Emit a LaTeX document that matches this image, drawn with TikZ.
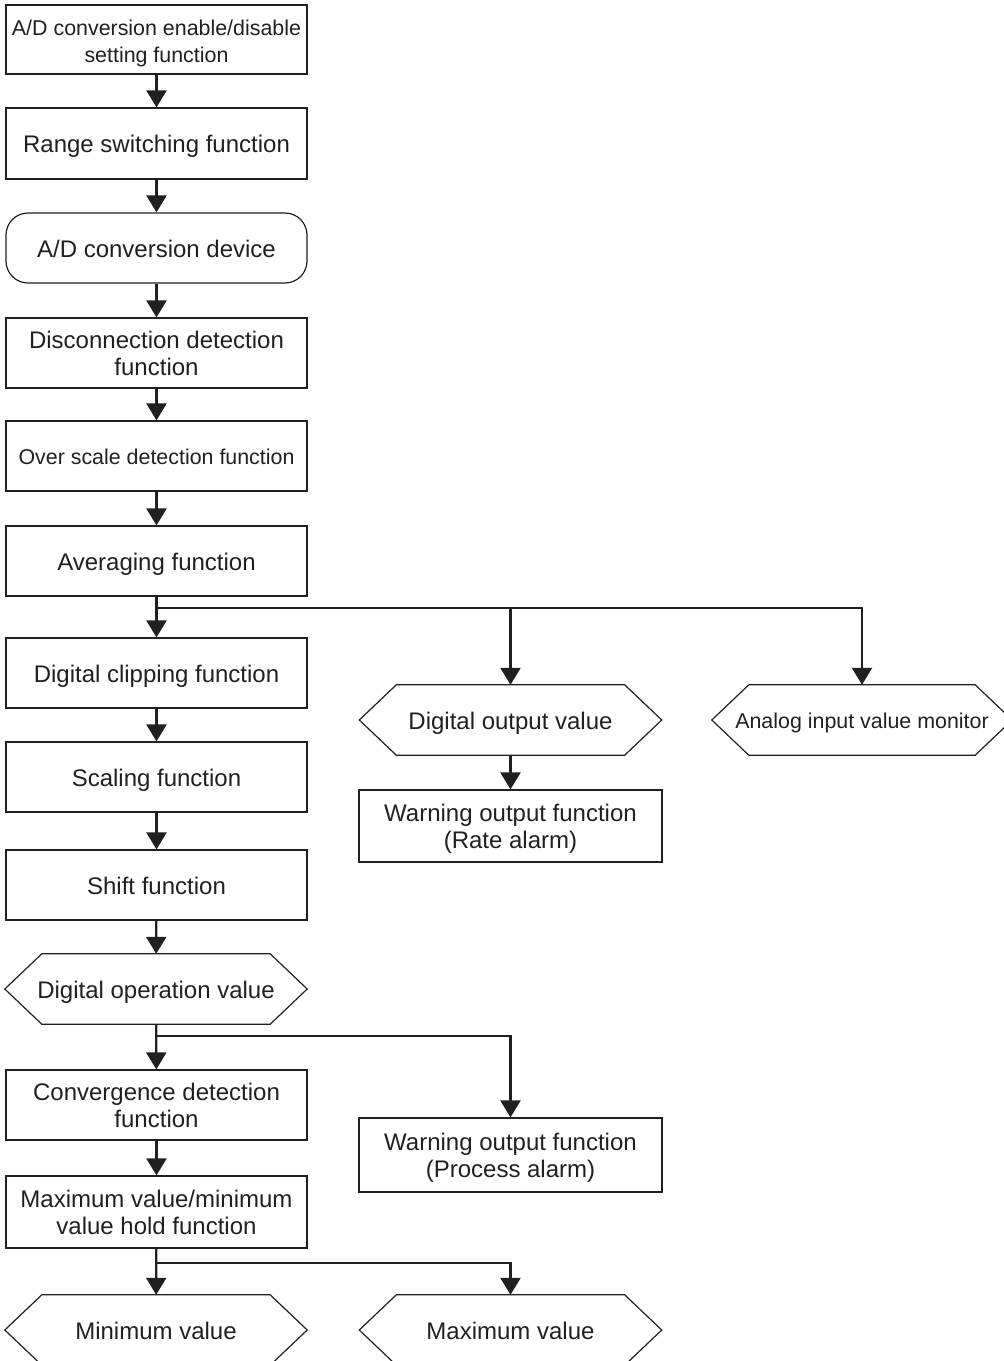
\documentclass[tikz,border=0pt]{standalone}
\usepackage{fontspec}
\setmainfont{Liberation Sans}
\usetikzlibrary{arrows.meta}
\definecolor{ink}{HTML}{231F20}
\newcommand\hexdraw[2]{\draw[line width=1.2pt, ink] (#1.west) -- ([xshift=#2]#1.north west) -- ([xshift=-#2]#1.north east) -- (#1.east) -- ([xshift=-#2]#1.south east) -- ([xshift=#2]#1.south west) -- cycle;}
\begin{document}
\begin{tikzpicture}[x=1pt,y=-1pt,
 box/.style={draw=ink, text=ink, line width=1.2pt, minimum width=301pt, minimum height=70pt, inner sep=0pt, align=center, font=\fontsize{24}{27}\selectfont, one},
 rbox/.style={box, rounded corners=22pt},
 hexn/.style={text=ink, minimum width=302pt, minimum height=70pt, inner sep=0pt, align=center, font=\fontsize{24}{27}\selectfont, one},
 one/.style={text height=19pt, text depth=0.8pt},
 two/.style={text height=46pt, text depth=0.8pt},
 conn/.style={draw=ink, line width=2.3pt, -{Triangle[length=17pt,width=20pt]}},
 smallf/.style={font=\fontsize{21.4}{27}\selectfont, text height=17pt, text depth=0.6pt},
 smalltwo/.style={font=\fontsize{21.4}{27}\selectfont, text height=47pt, text depth=0.6pt}]
\useasboundingbox (0,0) rectangle (1004,1361);
\node[box, smalltwo, minimum height=69pt] (n1) at (156.5,39.5) {A/D conversion enable/disable\\setting function};
\node[box, minimum height=71pt] (n2) at (156.5,143.5) {Range switching function};
\node[rbox] (n3) at (156.5,248) {A/D conversion device};
\node[box, two] (n4) at (156.5,353) {Disconnection detection\\function};
\node[box, smallf] (n5) at (156.5,456) {Over scale detection function};
\node[box] (n6) at (156.5,561) {Averaging function};
\node[box] (n7) at (156.5,673) {Digital clipping function};
\node[box] (n8) at (156.5,777) {Scaling function};
\node[box] (n9) at (156.5,885) {Shift function};
\node[hexn] (n10) at (156,989) {Digital operation value};
\node[box, two] (n11) at (156.5,1105) {Convergence detection\\function};
\node[box, two, minimum height=72pt] (n12) at (156.5,1212) {Maximum value/minimum\\value hold function};
\node[hexn] (mn) at (156,1330) {Minimum value};
\node[hexn] (mx) at (510.5,1330) {Maximum value};
\node[hexn] (dov) at (510.5,720) {Digital output value};
\node[hexn, smallf, minimum width=300pt] (aim) at (862,720) {Analog input value monitor};
\node[box, two, minimum width=303pt, minimum height=72pt] (rate) at (510.5,826) {Warning output function\\(Rate alarm)};
\node[box, two, minimum width=303pt, minimum height=74pt] (proc) at (510.5,1155) {Warning output function\\(Process alarm)};
\hexdraw{n10}{37pt}
\hexdraw{mn}{37pt}
\hexdraw{mx}{37pt}
\hexdraw{dov}{37pt}
\hexdraw{aim}{37pt}
\coordinate (j1) at (156.5,608);
\coordinate (j2) at (156.5,1036);
\coordinate (j3) at (156.5,1263);
\draw[conn] (n1) -- (n2);
\draw[conn] (n2) -- (n3);
\draw[conn] (n3) -- (n4);
\draw[conn] (n4) -- (n5);
\draw[conn] (n5) -- (n6);
\draw[conn] (n6) -- (n7);
\draw[conn] (n7) -- (n8);
\draw[conn] (n8) -- (n9);
\draw[conn] (n9) -- (n10);
\draw[conn] (n10) -- (n11);
\draw[conn] (n11) -- (n12);
\draw[conn] (n12) -- (mn);
\draw[conn] (j1) -| (dov.north);
\draw[conn] (j1) -| (aim.north);
\draw[conn] (dov) -- (rate);
\draw[conn] (j2) -| (proc.north);
\draw[conn] (j3) -| (mx.north);
\end{tikzpicture}
\end{document}
